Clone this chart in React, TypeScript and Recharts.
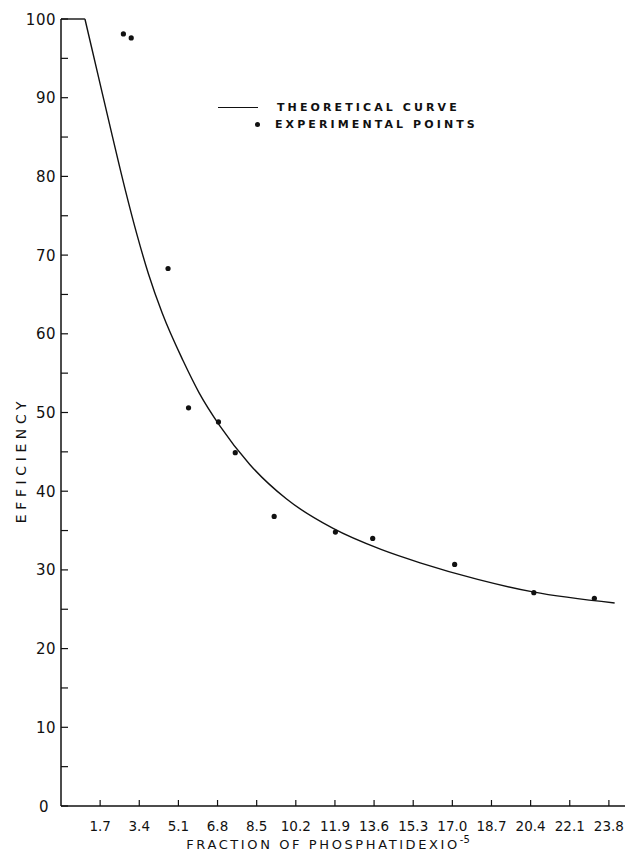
import React from "react";
import { ComposedChart, Line, Scatter, XAxis, YAxis, Legend } from "recharts";

// theoretical curve: flat top, then the falling branch
const flatX = [0, 1.04];
const flatY = [100, 100];
const curveX = [1.04, 1.6, 2.2, 2.8, 3.3, 3.8, 4.4, 5.3, 6.0, 6.9, 8.2, 9.8, 11.8, 13.9, 15.6, 18.1, 20.5, 24.05];
const curveY = [100, 93.0, 85.5, 78.2, 72.6, 67.6, 62.6, 56.6, 52.5, 48.3, 43.4, 39.0, 35.3, 32.6, 30.9, 28.8, 27.2, 25.8];

// experimental points
const pointX = [2.71, 3.05, 4.65, 5.54, 6.84, 7.57, 9.26, 11.92, 13.54, 17.1, 20.54, 23.17];
const pointY = [98.1, 97.6, 68.3, 50.6, 48.8, 44.9, 36.8, 34.8, 34.0, 30.7, 27.1, 26.4];

const xTicks = [1.7, 3.4, 5.1, 6.8, 8.5, 10.2, 11.9, 13.6, 15.3, 17.0, 18.7, 20.4, 22.1, 23.8];
const yTicks = [0, 5, 10, 15, 20, 25, 30, 35, 40, 45, 50, 55, 60, 65, 70, 75, 80, 85, 90, 95, 100];

const flatData = flatX.map((x, i) => ({ x, y: flatY[i] }));
const curveData = curveX.map((x, i) => ({ x, y: curveY[i] }));
const pointData = pointX.map((x, i) => ({ x, y: pointY[i] }));

const FONT = "'DejaVu Sans', 'Liberation Sans', sans-serif";
const INK = "#111";

function XTick(props: any) {
  const { x, y, payload } = props;
  return (
    <g>
      <line x1={x} y1={y} x2={x} y2={y - 6} stroke={INK} strokeWidth={1.2} />
      <text x={x} y={y + 25} textAnchor="middle" fontSize={13.5} fontFamily={FONT} fill={INK}>
        {Number(payload.value).toFixed(1)}
      </text>
    </g>
  );
}

function YTick(props: any) {
  const { x, y, payload } = props;
  const v = Number(payload.value);
  return (
    <g>
      <line x1={x} y1={y} x2={x + 7} y2={y} stroke={INK} strokeWidth={1.2} />
      {v % 10 === 0 && (
        <text
          x={v === 0 ? x - 12 : x - 5}
          y={y + 5.5}
          textAnchor="end"
          fontSize={15}
          letterSpacing={0.5}
          fontFamily={FONT}
          fill={INK}
        >
          {v}
        </text>
      )}
    </g>
  );
}

function Dot(props: any) {
  return <circle cx={props.cx} cy={props.cy} r={2.6} fill={INK} />;
}

function LegendBox() {
  const txt: React.CSSProperties = {
    fontFamily: FONT,
    fontSize: 11,
    fontWeight: 700,
    letterSpacing: 3.1,
    color: INK,
  };
  return (
    <div style={{ lineHeight: "17px" }}>
      <div style={{ display: "flex", alignItems: "center" }}>
        <span style={{ display: "inline-block", width: 40, borderTop: `1.5px solid ${INK}`, marginRight: 19 }} />
        <span style={txt}>THEORETICAL CURVE</span>
      </div>
      <div style={{ display: "flex", alignItems: "center" }}>
        <span style={{ display: "inline-block", width: 5, height: 5, borderRadius: 3, background: INK, marginLeft: 37, marginRight: 15 }} />
        <span style={txt}>EXPERIMENTAL POINTS</span>
      </div>
    </div>
  );
}

export default function App() {
  return (
    <div style={{ position: "absolute", left: 0, top: 0, width: 636, height: 852, background: "#fff" }}>
      <ComposedChart width={636} height={852} margin={{ top: 19, right: 11, bottom: 0, left: 0 }}>
        <XAxis
          dataKey="x"
          type="number"
          domain={[0, 24.5]}
          ticks={xTicks}
          interval={0}
          tickSize={0}
          tickMargin={0}
          tickLine={false}
          tick={<XTick />}
          height={46}
          axisLine={{ stroke: INK, strokeWidth: 1.5 }}
          allowDataOverflow
        />
        <YAxis
          dataKey="y"
          type="number"
          domain={[0, 100]}
          ticks={yTicks}
          interval={0}
          tickSize={0}
          tickMargin={0}
          tickLine={false}
          tick={<YTick />}
          width={61}
          axisLine={{ stroke: INK, strokeWidth: 1.5 }}
        />
        <Legend
          layout="vertical"
          align="center"
          verticalAlign="middle"
          content={() => <LegendBox />}
          wrapperStyle={{ position: "absolute", left: 218, top: 99, width: 320 }}
        />
        <Line data={flatData} dataKey="y" type="linear" stroke={INK} strokeWidth={1.4} dot={false} isAnimationActive={false} legendType="none" />
        <Line data={curveData} dataKey="y" type="monotone" stroke={INK} strokeWidth={1.4} dot={false} isAnimationActive={false} />
        <Scatter data={pointData} dataKey="y" shape={<Dot />} isAnimationActive={false} />
      </ComposedChart>
      <div
        style={{
          position: "absolute",
          left: 21,
          top: 460,
          transform: "translate(-50%, -50%) rotate(-90deg)",
          fontFamily: FONT,
          fontSize: 14,
          letterSpacing: 4.6,
          color: INK,
          whiteSpace: "nowrap",
        }}
      >
        EFFICIENCY
      </div>
      <div
        style={{
          position: "absolute",
          left: 328,
          top: 843,
          transform: "translate(-50%, -50%)",
          fontFamily: FONT,
          fontSize: 13,
          letterSpacing: 2.6,
          color: INK,
          whiteSpace: "nowrap",
        }}
      >
        FRACTION OF PHOSPHATIDEXIO<sup style={{ fontSize: 10, letterSpacing: 0 }}>-5</sup>
      </div>
    </div>
  );
}
